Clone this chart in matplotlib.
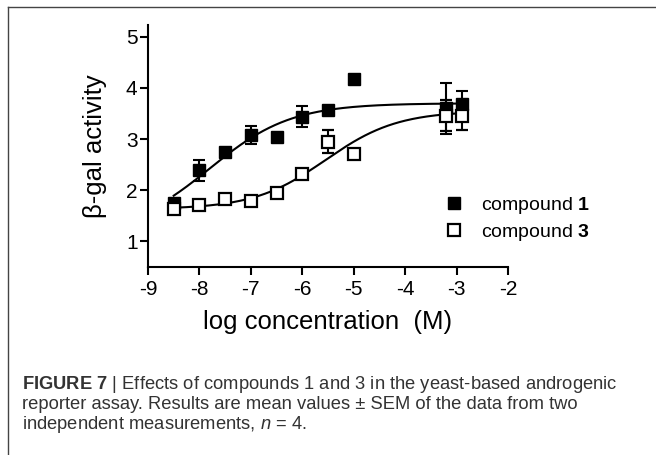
import numpy as np
import matplotlib
matplotlib.use("Agg")
import matplotlib.pyplot as plt
from matplotlib.lines import Line2D

plt.rcParams['font.family'] = ['Liberation Sans', 'DejaVu Sans']
plt.rcParams['mathtext.fontset'] = 'custom'
plt.rcParams['mathtext.rm'] = 'Liberation Sans'
plt.rcParams['mathtext.bf'] = 'Liberation Sans:bold'
plt.rcParams['mathtext.it'] = 'Liberation Sans:italic'

# data
logc1 = [-8.5, -8.0, -7.5, -7.0, -6.5, -6.0, -5.5, -5.0, -3.2, -2.9]
act1 = [1.76, 2.39, 2.74, 3.08, 3.04, 3.44, 3.57, 4.17, 3.60, 3.69]
sem1 = [0.05, 0.20, 0.04, 0.18, 0.04, 0.21, 0.04, 0.04, 0.50, 0.24]

logc3 = [-8.5, -8.0, -7.5, -7.0, -6.5, -6.0, -5.5, -5.0, -3.2, -2.9]
act3 = [1.63, 1.72, 1.83, 1.79, 1.94, 2.31, 2.95, 2.70, 3.46, 3.46]
sem3 = [0.04, 0.04, 0.04, 0.04, 0.04, 0.04, 0.23, 0.04, 0.30, 0.28]

# four-parameter logistic fits (bottom, top, logEC50, hill)
fit1 = (1.15, 3.70, -7.8, 0.55)
fit3 = (1.63, 3.55, -5.55, 0.62)


def logistic(x, p):
    b, t, ec, h = p
    return b + (t - b) / (1 + 10 ** ((ec - x) * h))


fig = plt.figure(figsize=(6.56, 4.55), dpi=100)
ax = fig.add_axes([0.2256, 0.4132, 0.5488, 0.5319])

xx = np.linspace(-8.5, -2.9, 200)
ax.plot(xx, logistic(xx, fit1), color='black', lw=1.5, zorder=2)
ax.plot(xx, logistic(xx, fit3), color='black', lw=1.5, zorder=2)

ax.errorbar(logc1, act1, yerr=sem1, fmt='s', ms=8, mfc='black', mec='black',
            ecolor='black', elinewidth=1.5, capsize=4, capthick=1.5, zorder=3)
ax.errorbar(logc3, act3, yerr=sem3, fmt='s', ms=8, mfc='white', mec='black',
            mew=1.6, ecolor='black', elinewidth=1.5, capsize=4, capthick=1.5,
            zorder=4)

ax.set_xlim(-9, -2)
ax.set_ylim(0.5, 5.23)
ax.set_xticks(range(-9, -1))
ax.set_yticks([1, 2, 3, 4, 5])
ax.set_xticklabels([str(v) for v in range(-9, -1)])
for s in ['top', 'right']:
    ax.spines[s].set_visible(False)
for s in ['left', 'bottom']:
    ax.spines[s].set_linewidth(1.5)
ax.tick_params(direction='out', length=5.5, width=1.5, labelsize=15, pad=2)
ax.tick_params(axis='x', pad=4)

ax.set_xlabel('log concentration  (M)', fontsize=18.5, labelpad=8)
ax.set_ylabel('β-gal activity', fontsize=18.5, labelpad=14)

h1 = Line2D([], [], ls='none', marker='s', ms=8, mfc='black', mec='black')
h3 = Line2D([], [], ls='none', marker='s', ms=8, mfc='white', mec='black', mew=1.6)
ax.legend([h1, h3], [r'compound $\mathbf{1}$', r'compound $\mathbf{3}$'],
          loc='upper left', bbox_to_anchor=(0.775, 0.37), frameon=False,
          fontsize=14, handlelength=1.0, handletextpad=0.9, labelspacing=0.3)

# caption
cap_color = '#333333'
cap_size = 13.2
fig.text(22 / 656, 1 - 389 / 455,
         r'$\mathbf{FIGURE\ 7}$ | Effects of compounds 1 and 3 in the yeast-based androgenic',
         fontsize=cap_size, color=cap_color, va='baseline')
fig.text(22 / 656, 1 - 409 / 455,
         'reporter assay. Results are mean values \u00b1 SEM of the data from two',
         fontsize=cap_size, color=cap_color, va='baseline')
fig.text(22 / 656, 1 - 429 / 455,
         r'independent measurements, $n$ = 4.',
         fontsize=cap_size, color=cap_color, va='baseline')

# frame around the figure panel
fig.add_artist(Line2D([8 / 656, 8 / 656], [0, 1 - 7 / 455], color='#444444', lw=1))
fig.add_artist(Line2D([8 / 656, 1], [1 - 7 / 455, 1 - 7 / 455], color='#444444', lw=1))

fig.savefig('out.png', dpi=100)
